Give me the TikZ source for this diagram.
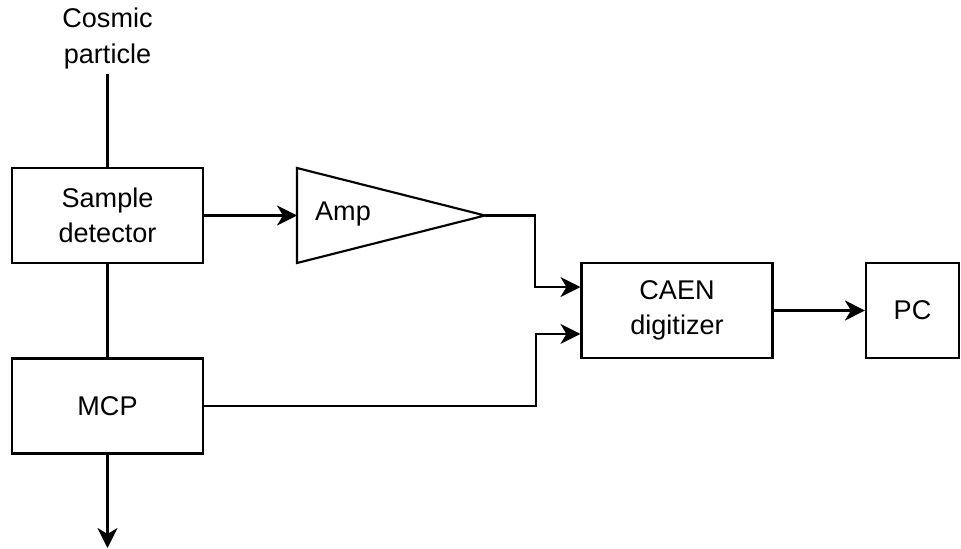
\documentclass[tikz,border=0pt]{standalone}
\usepackage{fontspec}
\setmainfont{Liberation Sans}
\usetikzlibrary{arrows.meta,calc}

\begin{document}
\begin{tikzpicture}[
  x=0.75pt, y=-0.75pt,
  line width=1.6pt,
  every node/.style={font=\fontsize{20.3}{26.3}\selectfont, align=center},
  blok/.style={draw, rectangle, minimum width=143.25pt, minimum height=71.25pt},
  pijl/.style={-{Stealth[length=15pt,width=15pt,inset=4.5pt]}}
]
\useasboundingbox (0,0) rectangle (961,549);

% Deeltje
\node (cosmic) at (107.5,38.5) {Cosmic\\particle};
\coordinate (entry) at (107.5,74);

% Detectoren
\node[blok] (sample) at (107.5,215.5) {Sample\\detector};
\node[blok] (mcp) at (107.5,406) {MCP};
\coordinate (exit) at (107.5,548);

% Versterker
\draw[line join=miter]
(297,168)
-- (485,215.5)
-- (297,263)
-- cycle;
\coordinate (ampin) at (297,215.5);
\coordinate (ampout) at (485,215.5);
\node (amp) at (343,214) {Amp};

% Digitizer en PC
\node[blok] (caen) at (677,310.5) {CAEN\\digitizer};
\node[blok, minimum width=69.75pt] (pc) at (912.5,310.5) {PC};

% Verbindingen
\draw (entry) -- (sample.north);
\draw (sample.south) -- (mcp.north);
\draw[pijl] (mcp.south) -- (exit);
\draw[pijl] (sample.east) -- (ampin);
\draw[pijl]
(ampout)
-- ++(50,0)
|- ([yshift=17.6pt]caen.west);
\draw[pijl]
(mcp.east)
-- ++(332,0)
|- ([yshift=-17.6pt]caen.west);
\draw[pijl] (caen.east) -- (pc.west);

\end{tikzpicture}
\end{document}
